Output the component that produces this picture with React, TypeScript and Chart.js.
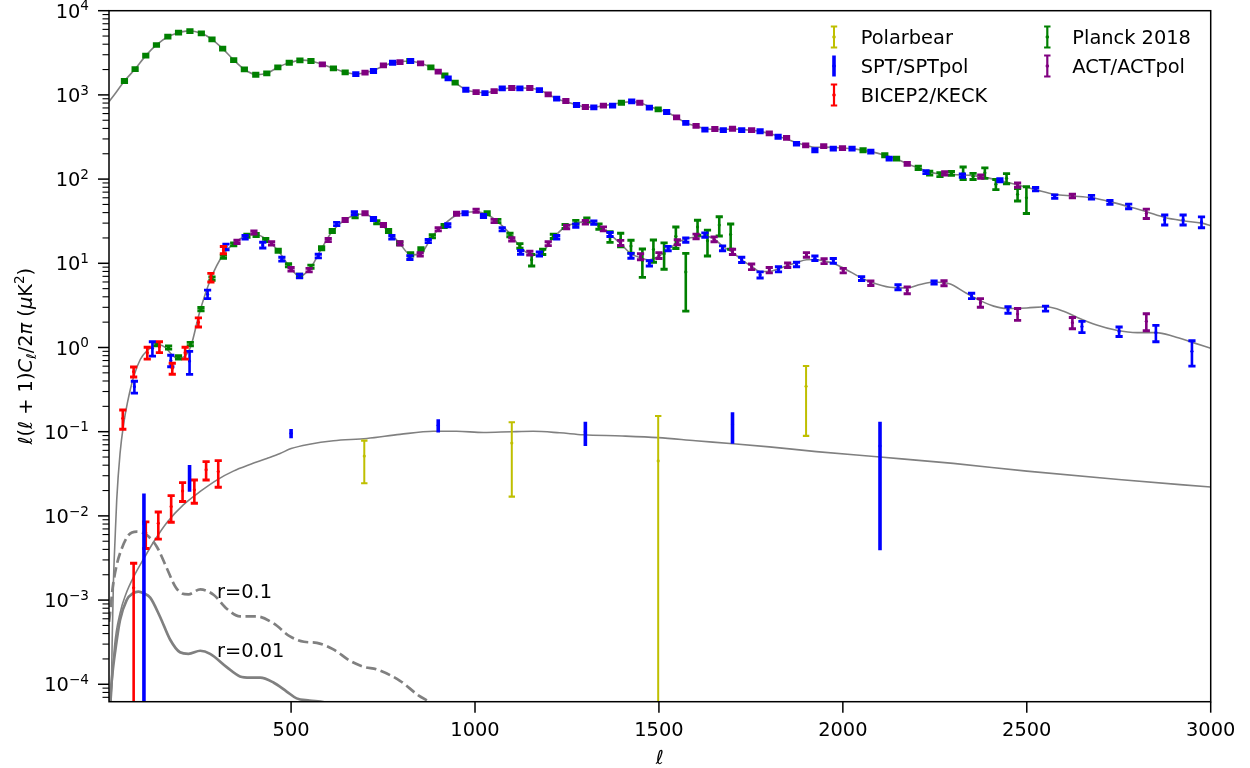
import React, { useEffect, useRef } from "react";
import { Chart, registerables } from "chart.js";

Chart.register(...registerables);

// ---------- model spectra: multipole ℓ and D_ℓ = ℓ(ℓ+1)C_ℓ/2π in μK² ----------
const TT_MODEL_L = [5, 20, 47, 76, 105, 134, 165, 194, 222, 256, 285, 314, 344, 373, 405, 434, 464, 495, 530, 554, 585, 615, 647, 676, 701, 724, 751, 776, 810, 835, 852, 880, 900, 927, 946, 975, 1003, 1027, 1052, 1074, 1100, 1130, 1149, 1175, 1199, 1222, 1247, 1276, 1300, 1323, 1349, 1374, 1410, 1426, 1448, 1474, 1498, 1521, 1548, 1573, 1601, 1625, 1652, 1675, 1700, 1725, 1752, 1775, 1800, 1824, 1847, 1874, 1899, 1924, 1948, 1974, 1999, 2025, 2055, 2076, 2114, 2146, 2175, 2205, 2236, 2264, 2295, 2325, 2354, 2375, 2427, 2475, 2524, 2576, 2624, 2676, 2726, 2777, 2825, 2875, 2925, 2975, 3000];
const TT_MODEL_D = [830, 1010, 1463, 2030, 2925, 3917, 4910, 5480, 5760, 5380, 4570, 3540, 2596, 2013, 1738, 1803, 2128, 2410, 2590, 2530, 2306, 2071, 1855, 1770, 1837, 1950, 2200, 2400, 2510, 2480, 2370, 2128, 1890, 1574, 1397, 1153, 1081, 1060, 1110, 1180, 1210, 1210, 1200, 1143, 1016, 902, 830, 759, 718, 715, 745, 775, 820, 830, 807, 730, 675, 627, 542, 465, 428, 395, 390, 388, 394, 390, 380, 368, 350, 322, 300, 270, 252, 238, 240, 238, 234, 230, 220, 212, 192, 173, 152, 136, 121, 115, 113, 112, 110, 107, 96, 85, 75, 66, 63, 60, 54, 47, 41, 35, 32, 30, 28];

const EE_MODEL_L = [9, 14, 17, 22, 26, 35, 45, 55, 72, 90, 110, 128, 142, 158, 175, 192, 210, 228, 250, 282, 316, 344, 375, 405, 431, 465, 493, 523, 554, 583, 612, 647, 674, 701, 733, 765, 795, 825, 851, 884, 916, 950, 1003, 1033, 1062, 1095, 1124, 1154, 1184, 1213, 1245, 1274, 1304, 1337, 1367, 1396, 1424, 1450, 1474, 1500, 1525, 1550, 1573, 1601, 1625, 1650, 1673, 1700, 1725, 1752, 1775, 1800, 1825, 1850, 1874, 1901, 1924, 1949, 1974, 2001, 2051, 2076, 2128, 2175, 2210, 2248, 2290, 2336, 2374, 2410, 2445, 2500, 2553, 2600, 2635, 2690, 2744, 2800, 2852, 2900, 2950, 3000];
const EE_MODEL_D = [2e-5, 4e-4, 1.6e-3, 6e-3, 0.0155, 0.055, 0.125, 0.22, 0.45, 0.72, 0.93, 1.05, 1.08, 1.0, 0.83, 0.74, 0.78, 1.05, 2.5, 6.6, 12.8, 17.2, 21, 22, 19.5, 14.1, 9.5, 7.0, 9.0, 15, 24, 33, 37.5, 38.5, 31, 24.2, 17.3, 12.6, 12.9, 21, 29, 37.5, 41, 38, 31, 22.5, 15.5, 12.5, 13.7, 20, 27, 30, 31, 28, 22, 17, 13, 11.6, 11, 12.2, 14.5, 17.5, 19.5, 20.5, 21, 19.5, 16, 13.5, 11, 9.2, 8, 8.0, 8.6, 9.4, 10.2, 11, 11.1, 10.6, 10.0, 8.8, 6.7, 6.0, 5.2, 5.1, 5.6, 6.0, 5.7, 4.4, 3.6, 3.1, 2.9, 2.95, 3.05, 2.7, 2.3, 1.85, 1.6, 1.5, 1.5, 1.35, 1.15, 0.98];

const BB_LENS_L = [8, 20, 35, 50, 75, 103, 130, 162, 207, 253, 300, 343, 390, 434, 470, 500, 550, 615, 706, 796, 887, 950, 1023, 1100, 1158, 1230, 1294, 1400, 1498, 1600, 1702, 1800, 1928, 2101, 2300, 2500, 2750, 3000];
const BB_LENS_D = [4e-5, 2.8e-4, 7e-4, 1.15e-3, 2.0e-3, 3.3e-3, 5.2e-3, 8.3e-3, 0.0135, 0.0195, 0.027, 0.034, 0.041, 0.048, 0.055, 0.063, 0.071, 0.078, 0.083, 0.093, 0.101, 0.101, 0.098, 0.1, 0.101, 0.097, 0.092, 0.089, 0.085, 0.078, 0.072, 0.066, 0.058, 0.050, 0.042, 0.034, 0.027, 0.022];

const BB_R01_L = [5, 8, 15, 25, 35, 58, 81, 108, 135, 162, 185, 203, 221, 253, 290, 325, 361, 407, 452, 497, 535, 570, 615, 660, 700, 733, 796, 846, 882, 900];
const BB_R01_D = [5.5e-4, 7e-4, 1.4e-3, 2.5e-3, 3.6e-3, 5.9e-3, 6.5e-3, 5.9e-3, 4.3e-3, 2.4e-3, 1.45e-3, 1.2e-3, 1.17e-3, 1.34e-3, 1.15e-3, 7.9e-4, 6.4e-4, 6.4e-4, 5.3e-4, 3.7e-4, 3.2e-4, 3.1e-4, 2.6e-4, 1.9e-4, 1.6e-4, 1.5e-4, 1.1e-4, 7.4e-5, 6e-5, 5.3e-5];

const BB_R001_L = [5, 8, 14, 22, 35, 53, 70, 85, 100, 117, 144, 171, 198, 221, 253, 280, 325, 361, 389, 416, 452, 488, 515, 550, 590, 620];
const BB_R001_D = [3e-5, 6.3e-5, 1.3e-4, 2.5e-4, 5.8e-4, 1.0e-3, 1.2e-3, 1.26e-3, 1.2e-3, 1.07e-3, 6.3e-4, 3.4e-4, 2.4e-4, 2.3e-4, 2.5e-4, 2.3e-4, 1.6e-4, 1.24e-4, 1.2e-4, 1.2e-4, 1.05e-4, 8.2e-5, 6.8e-5, 6.4e-5, 6.1e-5, 5.5e-5];

// ---------- measured band powers (ℓ, D_ℓ, 1σ error) ----------
// Planck 2018
const PLANCK_TT_L = [47, 76, 105, 134, 165, 194, 225, 256, 285, 314, 344, 373, 404, 434, 464, 495, 524, 554, 615, 647, 823, 880, 918, 946, 1398, 1498, 2055, 2114, 2146, 2205, 2236, 2264, 2295, 2327, 2354, 2386, 2416, 2445, 2475, 2499];
const PLANCK_TT_D = [1463, 2030, 2925, 3917, 4910, 5480, 5740, 5380, 4570, 3540, 2596, 2013, 1738, 1803, 2128, 2410, 2575, 2530, 2071, 1855, 2530, 2128, 1700, 1397, 807, 675, 220, 192, 175, 136, 118, 113, 117, 119, 108, 119, 87, 102, 66, 60];
const PLANCK_TT_E = [60, 80, 110, 150, 190, 210, 220, 210, 180, 140, 100, 80, 70, 70, 85, 95, 100, 100, 80, 75, 100, 85, 68, 56, 32, 27, 9, 8, 7, 6, 6, 6, 6, 20, 9, 17, 12, 14, 11, 21];
const PLANCK_EE_L = [135, 167, 194, 226, 255, 285, 316, 344, 380, 405, 431, 465, 493, 523, 554, 583, 612, 674, 733, 765, 795, 825, 853, 884, 916, 1033, 1062, 1095, 1122, 1154, 1184, 1213, 1245, 1274, 1304, 1337, 1367, 1396, 1424, 1455, 1485, 1514, 1546, 1573, 1605, 1632, 1664, 1695];
const PLANCK_EE_D = [1.10, 1.0, 0.764, 1.1, 2.86, 6.6, 12, 16.8, 21.3, 21.7, 18.9, 14.1, 9.5, 7.1, 9.1, 15.1, 24.2, 36.3, 30.7, 24.2, 17.3, 12.8, 14.7, 21, 27.7, 39.3, 31.8, 21.7, 16.1, 11, 13.7, 20.9, 27.4, 30.7, 32.7, 27.4, 20.7, 19.2, 16, 10.8, 14.6, 13, 21, 7.9, 27, 18.5, 28.4, 22];
const PLANCK_EE_E = [0.05, 0.045, 0.035, 0.05, 0.13, 0.3, 0.5, 0.7, 0.9, 0.9, 0.8, 0.6, 0.4, 0.3, 0.4, 0.6, 1.0, 1.5, 1.3, 1.0, 0.7, 0.6, 0.6, 0.9, 1.2, 1.6, 1.4, 1.0, 1.0, 1.7, 1.0, 1.2, 1.5, 1.6, 1.8, 2.0, 3, 3.5, 2.8, 4, 4.3, 4.5, 6, 5.2, 5.5, 6.3, 7.3, 7.3];

// ACT / ACTpol
const ACT_TT_L = [585, 701, 751, 796, 852, 900, 1003, 1052, 1100, 1149, 1199, 1247, 1300, 1349, 1448, 1548, 1601, 1652, 1700, 1752, 1800, 1847, 1899, 1948, 1999, 2175, 2277, 2375, 2475, 2624, 2825];
const ACT_TT_D = [2306, 1837, 2245, 2460, 2370, 1890, 1081, 1110, 1208, 1208, 1016, 847, 718, 745, 807, 542, 428, 394, 397, 383, 350, 308, 252, 247, 234, 152, 117, 107, 85, 63, 39];
const ACT_TT_E = [90, 72, 88, 96, 92, 75, 43, 44, 48, 48, 40, 34, 29, 30, 32, 22, 17, 16, 16, 15, 14, 12, 10, 10, 9, 6, 5, 5, 5, 3, 5];
const ACT_EE_L = [353, 399, 447, 500, 549, 601, 647, 701, 751, 796, 851, 900, 950, 1003, 1052, 1100, 1149, 1199, 1249, 1300, 1349, 1396, 1450, 1500, 1550, 1601, 1650, 1700, 1752, 1800, 1850, 1901, 1949, 2001, 2076, 2175, 2275, 2374, 2475, 2624, 2825];
const ACT_EE_D = [18, 23.3, 17.3, 8.5, 8.3, 18.9, 32.7, 39.3, 28.5, 17.3, 12.8, 25.4, 38.8, 42.2, 31.8, 19.3, 13.2, 17.1, 27, 30.7, 25.7, 17.5, 12, 12.4, 17.8, 20.9, 19.3, 13.7, 9.1, 8.3, 9.5, 12.6, 10.6, 8.2, 5.8, 4.8, 5.8, 3.4, 2.5, 1.97, 2.05];
const ACT_EE_E = [0.8, 1.0, 0.8, 0.4, 0.4, 0.8, 1.4, 1.6, 1.2, 0.8, 0.6, 1.1, 1.6, 1.8, 1.4, 0.9, 0.7, 0.9, 1.3, 1.5, 1.4, 1.2, 1.0, 1.0, 1.2, 1.3, 1.3, 1.0, 0.7, 0.6, 0.6, 0.8, 0.7, 0.5, 0.35, 0.45, 0.4, 0.4, 0.4, 0.3, 0.47];

// SPT / SPTpol
const SPT_TT_L = [676, 724, 776, 825, 927, 975, 1027, 1074, 1122, 1175, 1222, 1276, 1323, 1374, 1426, 1474, 1521, 1573, 1625, 1675, 1725, 1775, 1824, 1874, 1924, 1974, 2025, 2076, 2126, 2226, 2325, 2427, 2524, 2576, 2676, 2726, 2777, 2875, 2925, 2975];
const SPT_TT_D = [1770, 1923, 2410, 2530, 1574, 1153, 1053, 1197, 1197, 1143, 902, 759, 713, 745, 840, 706, 627, 465, 386, 383, 383, 370, 319, 263, 220, 230, 230, 212, 175, 121, 110, 97, 76, 62, 61, 53, 47.5, 33, 33, 31];
const SPT_TT_E = [70, 77, 95, 100, 63, 46, 42, 48, 48, 45, 36, 30, 28, 30, 33, 28, 25, 19, 15, 15, 15, 15, 13, 10, 9, 9, 9, 8, 7, 5, 5, 4, 3.5, 3, 3, 2.8, 3, 4.5, 4.5, 4.6];
const SPT_EE_L = [74, 123, 173, 224, 273, 323, 375, 423, 475, 523, 574, 624, 672, 724, 774, 823, 873, 926, 973, 1023, 1074, 1124, 1175, 1222, 1274, 1323, 1367, 1424, 1474, 1525, 1573, 1625, 1673, 1725, 1775, 1825, 1874, 1924, 1974, 2051, 2150, 2248, 2350, 2449, 2551, 2650, 2751, 2851, 2949];
const SPT_EE_D = [0.342, 0.98, 0.70, 0.69, 4.3, 15.7, 20.4, 16.5, 11.2, 7.07, 12.2, 29.3, 39.3, 33.6, 20.4, 11.7, 18.4, 28.3, 39.3, 36.5, 25.4, 13.5, 12.9, 20.4, 28, 30.4, 22, 12.3, 10, 15, 18.9, 21.7, 15.1, 11, 7.3, 8.5, 9.7, 11.5, 10.7, 6.6, 5.2, 5.9, 4.1, 2.8, 2.9, 1.77, 1.55, 1.5, 0.9];
const SPT_EE_E = [0.055, 0.19, 0.11, 0.21, 0.5, 1.2, 1.0, 1.3, 0.6, 0.35, 0.6, 1.3, 1.7, 1.4, 1.0, 0.6, 0.8, 1.2, 1.6, 1.5, 1.1, 0.7, 0.7, 1.0, 1.3, 1.4, 1.2, 0.8, 0.7, 0.9, 1.1, 1.3, 1.0, 0.8, 0.6, 0.6, 0.6, 0.7, 0.7, 0.35, 0.35, 0.25, 0.3, 0.25, 0.2, 0.27, 0.2, 0.33, 0.3];
const SPT_BB_L = [100, 224, 500, 900, 1300, 1700, 2101];
const SPT_BB_D = [8e-3, 0.0298, 0.0955, 0.119, 0.0995, 0.121, 0.0677];
const SPT_BB_E = [0.0105, 0.0104, 0.012, 0.0215, 0.032, 0.049, 0.0638];

// BICEP2 / Keck
const BICEP_EE_L = [42.5, 72, 109, 142, 177, 212, 248, 282, 316];
const BICEP_EE_D = [0.144, 0.516, 0.867, 1.02, 0.566, 0.867, 2.0, 6.8, 14.4];
const BICEP_EE_E = [0.037, 0.07, 0.14, 0.15, 0.085, 0.14, 0.25, 0.8, 1.4];
const BICEP_BB_L = [72, 105, 139, 174, 205, 237, 269, 302];
const BICEP_BB_D = [1.4e-3, 6.3e-3, 8.2e-3, 0.0129, 0.0198, 0.0204, 0.0354, 0.0336];
const BICEP_BB_E = [1.34e-3, 2.2e-3, 2.9e-3, 4.5e-3, 5.0e-3, 6.3e-3, 8.7e-3, 0.0117];

// POLARBEAR
const POLARBEAR_BB_L = [699, 1100, 1498, 1900];
const POLARBEAR_BB_D = [0.0513, 0.0732, 0.0449, 0.346];
const POLARBEAR_BB_E = [0.0269, 0.0563, 0.1087, 0.257];

// axes
const X_MIN = 5;
const X_MAX = 3000;
const Y_MIN = 6.21e-5;
const Y_MAX = 1e4;
const X_TICKS = [500, 1000, 1500, 2000, 2500, 3000];
const Y_DECADES = [-4, -3, -2, -1, 0, 1, 2, 3, 4];

const LEGEND_ITEMS = [
  { label: "Polarbear", color: "#bfbf00", col: 0, row: 0, caps: true, width: 2 },
  { label: "SPT/SPTpol", color: "#0000ff", col: 0, row: 1, caps: false, width: 3.6 },
  { label: "BICEP2/KECK", color: "#ff0000", col: 0, row: 2, caps: true, width: 2.2 },
  { label: "Planck 2018", color: "#008000", col: 1, row: 0, caps: true, width: 2.2 },
  { label: "ACT/ACTpol", color: "#800080", col: 1, row: 1, caps: true, width: 2.2 },
];

const COLORS = {
  planck: "#008000",
  act: "#800080",
  spt: "#0000ff",
  bicep: "#ff0000",
  polarbear: "#bfbf00",
  model: "#808080",
};

const FONT = '"DejaVu Sans", "Liberation Sans", sans-serif';
const FS = 19.4;
const SUB_FS = 13.6;

const pairs = (xs: number[], ys: number[]) => xs.map((x, i) => ({ x, y: ys[i] }));

function modelLine(L: number[], D: number[], width: number, dash: number[] = []) {
  return {
    type: "line" as const,
    data: pairs(L, D),
    borderColor: COLORS.model,
    borderWidth: width,
    borderDash: dash,
    pointRadius: 0,
    fill: false,
    cubicInterpolationMode: "monotone" as const,
    order: 10,
  };
}

function points(
  L: number[],
  D: number[],
  E: number[],
  color: string,
  order: number,
  style: { bar: number; capHalf: number; cap: number }
) {
  return {
    type: "scatter" as const,
    data: pairs(L, D),
    errs: E,
    barWidth: style.bar,
    capHalf: style.capHalf,
    capWidth: style.cap,
    backgroundColor: color,
    borderColor: color,
    borderWidth: 0,
    pointRadius: 1.6,
    order,
  };
}

const STD = { bar: 2.6, capHalf: 3.6, cap: 2.9 };
const THIN = { bar: 2.0, capHalf: 3.2, cap: 2.2 };
const THICK = { bar: 3.6, capHalf: 0, cap: 0 };

// Vertical error bars with caps, positioned through the chart's own scales
const errorBarPlugin = {
  id: "errorBars",
  afterDatasetDraw(chart: any, args: any) {
    const ds = chart.data.datasets[args.index];
    if (!ds.errs) return;
    const { ctx, chartArea: a } = chart;
    const xs = chart.scales.x;
    const ys = chart.scales.y;
    ctx.save();
    ctx.beginPath();
    ctx.rect(a.left, a.top, a.right - a.left, a.bottom - a.top);
    ctx.clip();
    ctx.strokeStyle = ds.borderColor;
    ctx.lineCap = "butt";
    ds.data.forEach((p: { x: number; y: number }, i: number) => {
      const e = ds.errs[i];
      const x = xs.getPixelForValue(p.x);
      const yHi = ys.getPixelForValue(p.y + e);
      const lo = p.y - e;
      const yLo = lo > 0 ? ys.getPixelForValue(lo) : a.bottom + 20;
      ctx.lineWidth = ds.barWidth;
      ctx.beginPath();
      ctx.moveTo(x, yHi);
      ctx.lineTo(x, yLo);
      ctx.stroke();
      if (ds.capHalf > 0) {
        ctx.lineWidth = ds.capWidth;
        ctx.beginPath();
        ctx.moveTo(x - ds.capHalf, yHi);
        ctx.lineTo(x + ds.capHalf, yHi);
        if (lo > 0) {
          ctx.moveTo(x - ds.capHalf, yLo);
          ctx.lineTo(x + ds.capHalf, yLo);
        }
        ctx.stroke();
      }
    });
    ctx.restore();
  },
};

function drawPower(ctx: CanvasRenderingContext2D, e: number, right: number, y: number) {
  const sup = e < 0 ? "\u2212" + Math.abs(e) : String(e);
  ctx.font = `${FS}px ${FONT}`;
  const wb = ctx.measureText("10").width;
  ctx.font = `${SUB_FS}px ${FONT}`;
  const ws = ctx.measureText(sup).width;
  const x0 = right - wb - ws;
  const base = y + 7.05;
  ctx.textAlign = "left";
  ctx.textBaseline = "alphabetic";
  ctx.font = `${FS}px ${FONT}`;
  ctx.fillText("10", x0, base);
  ctx.font = `${SUB_FS}px ${FONT}`;
  ctx.fillText(sup, x0 + wb, base - 7.3);
}

function drawYTitle(ctx: CanvasRenderingContext2D, cx: number, cy: number) {
  const parts = [
    { t: "\u2113", it: true },
    { t: "(" },
    { t: "\u2113", it: true },
    { t: " + " },
    { t: "1" },
    { t: ")" },
    { t: "C", it: true },
    { t: "\u2113", it: true, dy: 4.2, small: true },
    { t: "/" },
    { t: "2" },
    { t: "\u03c0", it: true },
    { t: " (" },
    { t: "\u03bc", it: true },
    { t: "K" },
    { t: "2", dy: -7.6, small: true },
    { t: ")" },
  ] as { t: string; it?: boolean; dy?: number; small?: boolean }[];
  const fontOf = (p: { it?: boolean; small?: boolean }) =>
    `${p.it ? "italic " : ""}${p.small ? SUB_FS : FS}px ${FONT}`;
  const widths = parts.map((p) => {
    ctx.font = fontOf(p);
    return ctx.measureText(p.t).width;
  });
  const total = widths.reduce((s, w) => s + w, 0);
  ctx.save();
  ctx.translate(cx, cy);
  ctx.rotate(-Math.PI / 2);
  ctx.textAlign = "left";
  ctx.textBaseline = "alphabetic";
  let x = -total / 2;
  parts.forEach((p, i) => {
    ctx.font = fontOf(p);
    ctx.fillText(p.t, x, p.dy || 0);
    x += widths[i];
  });
  ctx.restore();
}

// Frame, ticks, tick labels, axis titles, annotations and legend
const decorPlugin = {
  id: "decor",
  afterDraw(chart: any) {
    const { ctx, chartArea: a } = chart;
    const xs = chart.scales.x;
    const ys = chart.scales.y;
    ctx.save();
    ctx.fillStyle = "#000";
    ctx.strokeStyle = "#000";

    // y ticks (major + minor) and labels
    for (let e = -5; e <= 4; e++) {
      for (let m = 1; m <= 9; m++) {
        const v = m * Math.pow(10, e);
        if (v < Y_MIN || v > Y_MAX * 1.0001) continue;
        const y = ys.getPixelForValue(v);
        const major = m === 1;
        ctx.lineWidth = major ? 1.5 : 1.1;
        ctx.beginPath();
        ctx.moveTo(a.left, y);
        ctx.lineTo(a.left - (major ? 11 : 6.5), y);
        ctx.stroke();
      }
    }
    Y_DECADES.forEach((e) => {
      const y = ys.getPixelForValue(Math.pow(10, e));
      drawPower(ctx, e, a.left - 20, y);
    });

    // x ticks and labels
    ctx.font = `${FS}px ${FONT}`;
    ctx.textAlign = "center";
    ctx.textBaseline = "alphabetic";
    X_TICKS.forEach((v) => {
      const x = xs.getPixelForValue(v);
      ctx.lineWidth = 1.5;
      ctx.beginPath();
      ctx.moveTo(x, a.bottom);
      ctx.lineTo(x, a.bottom + 11);
      ctx.stroke();
      ctx.fillText(String(v), x, a.bottom + 34.5);
    });

    // axes frame
    ctx.lineWidth = 1.5;
    ctx.strokeRect(a.left, a.top, a.right - a.left, a.bottom - a.top);

    // axis titles
    ctx.font = `italic ${FS}px ${FONT}`;
    ctx.textAlign = "center";
    ctx.fillText("\u2113", (a.left + a.right) / 2, a.bottom + 62.5);
    drawYTitle(ctx, 32, (a.top + a.bottom) / 2);

    // tensor curve labels
    ctx.font = `${FS}px ${FONT}`;
    ctx.textAlign = "left";
    ctx.fillText("r=0.1", 217, 598);
    ctx.fillText("r=0.01", 217, 657);

    // legend
    const handleX = [834, 1047.3];
    const textX = [860.7, 1072.3];
    const rowY = [37, 66, 95];
    LEGEND_ITEMS.forEach((it) => {
      const hx = handleX[it.col];
      const cy = rowY[it.row];
      ctx.strokeStyle = it.color;
      ctx.fillStyle = it.color;
      ctx.lineWidth = it.width;
      ctx.beginPath();
      ctx.moveTo(hx, cy - 10.5);
      ctx.lineTo(hx, cy + 10.5);
      ctx.stroke();
      if (it.caps) {
        ctx.lineWidth = 2.2;
        ctx.beginPath();
        ctx.moveTo(hx - 3.2, cy - 10.5);
        ctx.lineTo(hx + 3.2, cy - 10.5);
        ctx.moveTo(hx - 3.2, cy + 10.5);
        ctx.lineTo(hx + 3.2, cy + 10.5);
        ctx.stroke();
      }
      ctx.beginPath();
      ctx.arc(hx, cy, 1.8, 0, Math.PI * 2);
      ctx.fill();
      ctx.fillStyle = "#000";
      ctx.font = `${FS}px ${FONT}`;
      ctx.textAlign = "left";
      ctx.fillText(it.label, textX[it.col], cy + 7.05);
    });
    ctx.restore();
  },
};

export default function App() {
  const ref = useRef<HTMLCanvasElement>(null);

  useEffect(() => {
    if (!ref.current) return;
    const chart = new Chart(ref.current, {
      type: "line",
      data: {
        datasets: [
          modelLine(TT_MODEL_L, TT_MODEL_D, 1.6),
          modelLine(EE_MODEL_L, EE_MODEL_D, 1.6),
          modelLine(BB_LENS_L, BB_LENS_D, 1.6),
          modelLine(BB_R01_L, BB_R01_D, 2.7, [10.4, 4.5]),
          modelLine(BB_R001_L, BB_R001_D, 2.7),
          points(PLANCK_TT_L, PLANCK_TT_D, PLANCK_TT_E, COLORS.planck, 5, STD),
          points(PLANCK_EE_L, PLANCK_EE_D, PLANCK_EE_E, COLORS.planck, 5, STD),
          points(ACT_TT_L, ACT_TT_D, ACT_TT_E, COLORS.act, 4, STD),
          points(ACT_EE_L, ACT_EE_D, ACT_EE_E, COLORS.act, 4, STD),
          points(SPT_TT_L, SPT_TT_D, SPT_TT_E, COLORS.spt, 3, STD),
          points(SPT_EE_L, SPT_EE_D, SPT_EE_E, COLORS.spt, 3, STD),
          points(SPT_BB_L, SPT_BB_D, SPT_BB_E, COLORS.spt, 2, THICK),
          points(BICEP_EE_L, BICEP_EE_D, BICEP_EE_E, COLORS.bicep, 2, STD),
          points(BICEP_BB_L, BICEP_BB_D, BICEP_BB_E, COLORS.bicep, 2, STD),
          points(POLARBEAR_BB_L, POLARBEAR_BB_D, POLARBEAR_BB_E, COLORS.polarbear, 1, THIN),
        ] as any,
      },
      options: {
        animation: false,
        responsive: false,
        maintainAspectRatio: false,
        devicePixelRatio: 1,
        events: [],
        layout: { padding: { left: 109, top: 10.7, right: 39.3, bottom: 66.3 } },
        plugins: { legend: { display: false }, tooltip: { enabled: false } },
        scales: {
          x: { type: "linear", min: X_MIN, max: X_MAX, display: false },
          y: { type: "logarithmic", min: Y_MIN, max: Y_MAX, display: false },
        },
      },
      plugins: [errorBarPlugin, decorPlugin],
    });
    return () => chart.destroy();
  }, []);

  return (
    <div style={{ position: "fixed", left: 0, top: 0, width: 1250, height: 768, background: "#fff" }}>
      <canvas ref={ref} width={1250} height={768} style={{ width: 1250, height: 768, display: "block" }} />
    </div>
  );
}
